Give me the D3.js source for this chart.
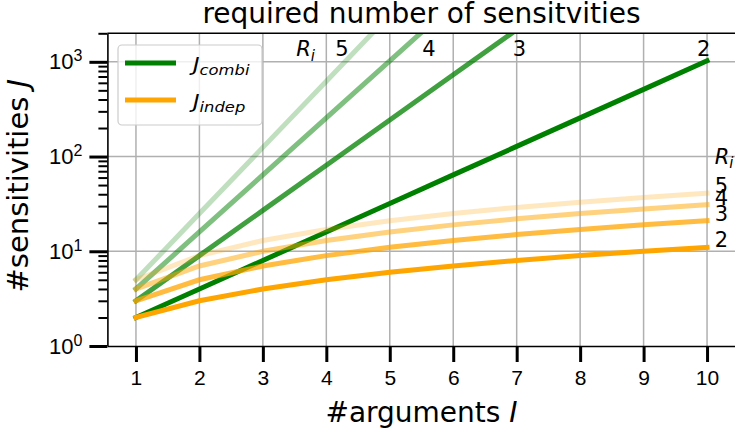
<!DOCTYPE html>
<html lang="en">
<head>
<meta charset="UTF-8" />
<title>required number of sensitvities</title>
<script src="https://d3js.org/d3.v7.min.js"></script>
<style>
  body { margin: 0; background: #fff; }
  svg { display: block; font-family: 'DejaVu Sans', sans-serif; }
  .grid line { stroke: #b0b0b0; stroke-width: 1.5; }
  .tick text { font-size: 21px; fill: #000; }
</style>
</head>
<body>
<div id="chart"></div>
<script>
// number of arguments I
const args = [1, 2, 3, 4, 5, 6, 7, 8, 9, 10];
const rValues = [2, 3, 4, 5];

// J_combi for R_i = 2..5
const combi2 = [2, 4, 8, 16, 32, 64, 128, 256, 512, 1024];
const combi3 = [3, 9, 27, 81, 243, 729, 2187, 6561, 19683, 59049];
const combi4 = [4, 16, 64, 256, 1024, 4096, 16384, 65536, 262144, 1048576];
const combi5 = [5, 25, 125, 625, 3125, 15625, 78125, 390625, 1953125, 9765625];

// J_indep for R_i = 2..5
const indep2 = [2, 3, 4, 5, 6, 7, 8, 9, 10, 11];
const indep3 = [3, 5, 7, 9, 11, 13, 15, 17, 19, 21];
const indep4 = [4, 7, 10, 13, 16, 19, 22, 25, 28, 31];
const indep5 = [5, 9, 13, 17, 21, 25, 29, 33, 37, 41];

const xTicks = [1, 2, 3, 4, 5, 6, 7, 8, 9, 10];
const yMajor = [1, 10, 100, 1000];
const yMinor = [2,3,4,5,6,7,8,9, 20,30,40,50,60,70,80,90, 200,300,400,500,600,700,800,900, 2000];

// where the R_i labels sit (top row and right column)
const topLabelX = [9.84, 6.94, 5.51, 4.14];
const topLabelY = 1150;
const rightLabelX = 10.12;

const combiSeries = [combi2, combi3, combi4, combi5];
const indepSeries = [indep2, indep3, indep4, indep5];
const alphas = [1, 0.75, 0.5, 0.25];

const W = 735, H = 437;
const svg = d3.select("#chart").append("svg").attr("width", W).attr("height", H);

const x = d3.scaleLinear().domain([0.55, 10.45]).range([107.4, 735.6]);
const y = d3.scaleLog().domain([1, 2000]).range([346, 33.3]);

svg.append("clipPath").attr("id", "plot")
  .append("rect")
  .attr("x", x.range()[0]).attr("y", y.range()[1])
  .attr("width", x.range()[1] - x.range()[0])
  .attr("height", y.range()[0] - y.range()[1]);

// grid
const grid = svg.append("g").attr("class", "grid");
grid.selectAll(".vx").data(xTicks).enter().append("line")
  .attr("x1", d => x(d)).attr("x2", d => x(d))
  .attr("y1", y.range()[0]).attr("y2", y.range()[1]);
grid.selectAll(".hy").data(yMajor.slice(1)).enter().append("line")
  .attr("x1", x.range()[0]).attr("x2", x.range()[1])
  .attr("y1", d => y(d)).attr("y2", d => y(d));

// lines
const line = d3.line().x((d, i) => x(args[i])).y(d => y(d));
const lines = svg.append("g").attr("clip-path", "url(#plot)");
rValues.forEach((r, k) => {
  lines.append("path")
    .attr("d", line(combiSeries[k]))
    .attr("fill", "none").attr("stroke", "green")
    .attr("stroke-opacity", alphas[k])
    .attr("stroke-width", 5).attr("stroke-linecap", "square");
  lines.append("path")
    .attr("d", line(indepSeries[k]))
    .attr("fill", "none").attr("stroke", "orange")
    .attr("stroke-opacity", alphas[k])
    .attr("stroke-width", 5).attr("stroke-linecap", "square");
});

// axes
const xAxis = svg.append("g")
  .attr("transform", `translate(0,${y.range()[0]})`)
  .call(d3.axisBottom(x).tickValues(xTicks).tickSize(16).tickPadding(8).tickSizeOuter(0));
xAxis.selectAll(".tick line").attr("stroke-width", 3);

const yAxis = svg.append("g")
  .attr("transform", `translate(${x.range()[0]},0)`)
  .call(d3.axisLeft(y).tickValues(yMajor).tickSize(18).tickPadding(7).tickSizeOuter(0).tickFormat(""));
yAxis.selectAll(".tick line").attr("stroke-width", 3);
yAxis.selectAll(".tick text").each(function(d) {
  const t = d3.select(this).text(null).attr("dy", "0.32em").style("font-size", "22px");
  t.append("tspan").text("10");
  t.append("tspan").attr("dy", "-0.5em").attr("font-size", "16px").text(Math.round(Math.log10(d)));
});

const yMinorAxis = svg.append("g")
  .attr("transform", `translate(${x.range()[0]},0)`)
  .call(d3.axisLeft(y).tickValues(yMinor).tickSize(9).tickFormat("").tickSizeOuter(0));
yMinorAxis.select(".domain").remove();
yMinorAxis.selectAll(".tick line").attr("stroke-width", 2);

[xAxis, yAxis].forEach(a => a.select(".domain").attr("stroke-width", 1.6));
svg.append("line")
  .attr("x1", x.range()[0]).attr("x2", x.range()[1])
  .attr("y1", y.range()[1]).attr("y2", y.range()[1])
  .attr("stroke", "#000").attr("stroke-width", 1.6);

// labels
svg.append("text")
  .attr("x", (x.range()[0] + x.range()[1]) / 2).attr("y", 23)
  .attr("text-anchor", "middle").attr("font-size", "28px")
  .text("required number of sensitvities");

const xl = svg.append("text")
  .attr("x", (x.range()[0] + x.range()[1]) / 2).attr("y", 422)
  .attr("text-anchor", "middle").attr("font-size", "28px");
xl.append("tspan").text("#arguments ");
xl.append("tspan").attr("font-style", "italic").text("I");

const yl = svg.append("text")
  .attr("transform", `translate(28,${(y.range()[0] + y.range()[1]) / 2 - 4}) rotate(-90)`)
  .attr("text-anchor", "middle").attr("font-size", "29px");
yl.append("tspan").text("#sensitivities ");
yl.append("tspan").attr("font-style", "italic").text("J");

function rLabel(sel) {
  sel.append("tspan").attr("font-style", "italic").text("R");
  sel.append("tspan").attr("font-style", "italic").attr("font-size", "15px")
    .attr("dy", "0.3em").text("i");
}

// top row of R_i labels
rLabel(svg.append("text").attr("x", x(3.82)).attr("y", y(topLabelY))
  .attr("text-anchor", "end").attr("font-size", "21px"));
rValues.forEach((r, k) => {
  svg.append("text").attr("x", x(topLabelX[k])).attr("y", y(topLabelY))
    .attr("font-size", "21px").text(r);
});

// right column of R_i labels
rLabel(svg.append("text").attr("x", x(rightLabelX)).attr("y", y(100) + 7)
  .attr("font-size", "21px"));
rValues.forEach((r, k) => {
  svg.append("text").attr("x", x(rightLabelX))
    .attr("y", y(indepSeries[k][indepSeries[k].length - 1]))
    .attr("font-size", "21px").text(r);
});

// legend
const lg = svg.append("g");
lg.append("rect").attr("x", 118).attr("y", 45).attr("width", 144).attr("height", 80)
  .attr("rx", 4).attr("fill", "#fff").attr("fill-opacity", 0.8)
  .attr("stroke", "#cccccc").attr("stroke-width", 1.2);
[["green", "combi", 63], ["orange", "indep", 100]].forEach(([c, sub, ly]) => {
  lg.append("line").attr("x1", 125).attr("x2", 176).attr("y1", ly).attr("y2", ly)
    .attr("stroke", c).attr("stroke-width", 5);
  const t = lg.append("text")
    .attr("transform", `translate(193,${ly + 8}) scale(1.17,1)`)
    .attr("font-size", "19px").attr("font-style", "italic");
  t.append("tspan").text("J");
  t.append("tspan").attr("font-size", "14px").attr("dy", "4").text(sub);
});
</script>
</body>
</html>
